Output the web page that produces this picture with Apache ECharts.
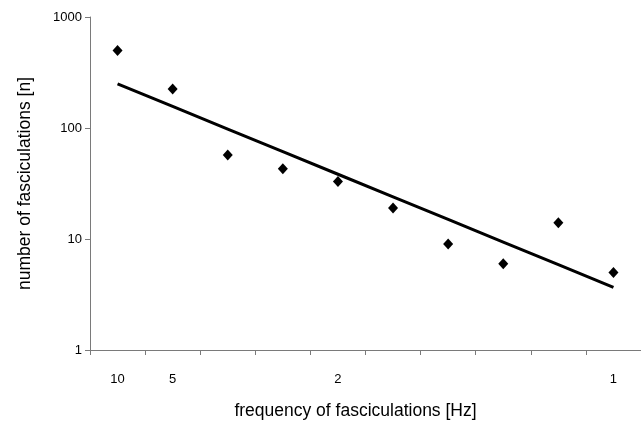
<!DOCTYPE html>
<html><head><meta charset="utf-8">
<script src="https://cdn.jsdelivr.net/npm/echarts@6/dist/echarts.min.js"></script>
<style>html,body{margin:0;padding:0;background:#fff}#c{width:641px;height:422px}</style>
</head><body><div id="c"></div>
<script>
const categories = ['10','5','3.33','2.5','2','1.67','1.43','1.25','1.11','1'];
const shownLabels = ['10','5','2','1'];
const counts = [500, 225, 57, 43, 33, 19, 9, 6, 14, 5];
const yTicks = [1, 10, 100, 1000];

// log-linear least-squares trend over category index
const n = counts.length;
const lx = counts.map((_, i) => i), ly = counts.map(v => Math.log10(v));
const mx = lx.reduce((a,b)=>a+b,0)/n, my = ly.reduce((a,b)=>a+b,0)/n;
let sxy = 0, sxx = 0;
for (let i = 0; i < n; i++) { sxy += (lx[i]-mx)*(ly[i]-my); sxx += (lx[i]-mx)**2; }
const slope = sxy/sxx, icpt = my - slope*mx;
const trend = lx.map(i => Math.pow(10, icpt + slope*i));

const font = '"Liberation Sans", Arial, sans-serif';
const axisColor = '#7a7a7a';
const chart = echarts.init(document.getElementById('c'), null, {renderer:'canvas'});
chart.setOption({
  animation: false,
  backgroundColor: '#fff',
  grid: {left: 90, right: 0, top: 17, bottom: 72, containLabel: false, outerBoundsMode: 'none'},
  xAxis: {
    type: 'category', data: categories, boundaryGap: true,
    axisLine: {lineStyle: {color: axisColor, width: 1}},
    axisTick: {show: true, length: 5, lineStyle: {color: axisColor}},
    axisLabel: {margin: 23, color: '#000', fontFamily: font, fontSize: 13, interval: 0,
      formatter: v => shownLabels.includes(v) ? v : ''},
    splitLine: {show: false},
    name: 'frequency of fasciculations [Hz]', nameLocation: 'middle', nameGap: 52,
    nameTextStyle: {color: '#000', fontFamily: font, fontSize: 17.5, padding: [0, 20, 0, 0]}
  },
  yAxis: {
    type: 'log', logBase: 10, min: 1, max: 1000,
    axisLine: {show: true, lineStyle: {color: axisColor, width: 1}},
    axisTick: {show: true, length: 5, lineStyle: {color: axisColor}},
    axisLabel: {margin: 8, color: '#000', fontFamily: font, fontSize: 13,
      formatter: v => yTicks.includes(Math.round(v)) ? String(Math.round(v)) : ''},
    splitLine: {show: false}, minorTick: {show: false},
    name: 'number of fasciculations [n]', nameLocation: 'middle', nameGap: 56, nameRotate: 90,
    nameTextStyle: {color: '#000', fontFamily: font, fontSize: 17.5}
  },
  series: [{
    type: 'line', data: trend,
    symbol: 'none', lineStyle: {color: '#000', width: 3}, z: 2
  }, {
    type: 'scatter', data: counts,
    symbol: 'diamond', symbolSize: [10, 11], itemStyle: {color: '#000', opacity: 1}, z: 3
  }]
});
</script></body></html>
